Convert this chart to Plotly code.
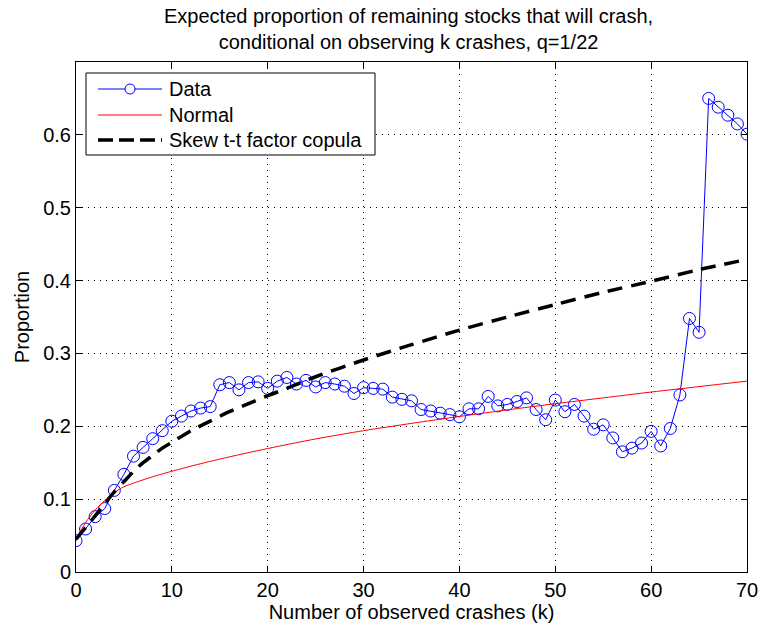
import plotly.graph_objects as go

k = list(range(71))
data = [0.043, 0.059, 0.076, 0.087, 0.112, 0.134, 0.159, 0.171, 0.183, 0.194,
        0.207, 0.214, 0.221, 0.225, 0.227, 0.257, 0.260, 0.250, 0.260, 0.261,
        0.252, 0.262, 0.267, 0.258, 0.263, 0.254, 0.260, 0.258, 0.255, 0.245,
        0.253, 0.252, 0.251, 0.240, 0.237, 0.235, 0.223, 0.221, 0.218, 0.216,
        0.213, 0.224, 0.224, 0.241, 0.228, 0.230, 0.234, 0.239, 0.223, 0.209,
        0.236, 0.220, 0.230, 0.214, 0.196, 0.202, 0.184, 0.165, 0.170, 0.177,
        0.193, 0.173, 0.197, 0.243, 0.348, 0.329, 0.650, 0.638, 0.627, 0.615,
        0.601]

normal_k = [0, 1, 2, 3, 4, 5, 6, 7, 8, 9, 10, 12, 15, 20, 25, 30, 35, 40, 45, 50, 55, 60, 65, 70]
normal = [0.045, 0.068, 0.085, 0.098, 0.109, 0.117, 0.122, 0.1265, 0.1307, 0.1346, 0.1383,
          0.1453, 0.155, 0.1695, 0.1826, 0.194, 0.204, 0.2135, 0.2225, 0.231, 0.239, 0.247,
          0.2545, 0.262]

skew_k = [0, 1, 2, 3, 4, 5, 6, 7, 8, 9, 10, 12, 14, 16, 18, 20, 22, 25, 30, 35, 40, 45,
          50, 55, 60, 65, 70]
skew_tt = [0.045, 0.061, 0.077, 0.094, 0.110, 0.124, 0.138, 0.150, 0.160, 0.170, 0.178,
           0.194, 0.207, 0.220, 0.231, 0.242, 0.252, 0.268, 0.291, 0.312, 0.332, 0.350,
           0.367, 0.384, 0.399, 0.415, 0.429]

x_ticks = [0, 10, 20, 30, 40, 50, 60, 70]
y_ticks = [0, 0.1, 0.2, 0.3, 0.4, 0.5, 0.6]
y_ticktext = ["0", "0.1", "0.2", "0.3", "0.4", "0.5", "0.6"]
legend_labels = ["Data", "Normal", "Skew t-t factor copula"]
title_text = ("Expected proportion of remaining stocks that will crash,<br>"
              "conditional on observing k crashes, q=1/22")

FONT = "Liberation Sans, Arial, Helvetica, sans-serif"
W, H = 758, 632
ML, MR, MT, MB = 76, 11, 62, 60
PW, PH = W - ML - MR, H - MT - MB


def xp(px):
    return (px - ML) / PW


def yp(py):
    return (H - MB - py) / PH


fig = go.Figure()
fig.add_trace(go.Scatter(x=k, y=data, name=legend_labels[0], mode="lines+markers",
                         line=dict(color="#0000ff", width=1),
                         marker=dict(symbol="circle-open", size=12,
                                     line=dict(color="#0000ff", width=1))))
fig.add_trace(go.Scatter(x=normal_k, y=normal, name=legend_labels[1], mode="lines",
                         line=dict(color="#ff0000", width=1, shape="spline", smoothing=0.8)))
fig.add_trace(go.Scatter(x=skew_k, y=skew_tt, name=legend_labels[2], mode="lines",
                         line=dict(color="#000000", width=3.5, dash="15px,9px",
                                   shape="spline", smoothing=0.8)))

axis_common = dict(showline=True, linecolor="black", linewidth=1, mirror="ticks",
                   ticks="inside", ticklen=6, tickcolor="black", automargin=False,
                   showgrid=True, gridcolor="black", gridwidth=1, griddash="1px,5px",
                   zeroline=False, tickfont=dict(family=FONT, size=20, color="black"))

fig.update_xaxes(range=[0, 70], tickvals=x_ticks, ticklabeloverflow="allow", **axis_common,
                 title=dict(text="Number of observed crashes (k)",
                            font=dict(family=FONT, size=20, color="black"), standoff=4))
fig.update_yaxes(range=[0, 0.7], tickvals=y_ticks, ticktext=y_ticktext, **axis_common,
                 title=dict(text="Proportion",
                            font=dict(family=FONT, size=20, color="black"), standoff=8))

# Legend box drawn by hand (MATLAB-style compact legend)
shapes = [dict(type="rect", xref="paper", yref="paper",
               x0=xp(86), x1=xp(375), y0=yp(155), y1=yp(73),
               line=dict(color="black", width=1), fillcolor="white", layer="above")]
rows_y = [89, 115, 140]
styles = [dict(color="#0000ff", width=1), dict(color="#ff0000", width=1),
          dict(color="#000000", width=3.5, dash="15px,6px")]
annotations = []
for lab, ry, st in zip(legend_labels, rows_y, styles):
    shapes.append(dict(type="line", xref="paper", yref="paper",
                       x0=xp(98), x1=xp(162), y0=yp(ry), y1=yp(ry),
                       line=st, layer="above"))
    annotations.append(dict(text=lab, xref="paper", yref="paper", x=xp(167), y=yp(ry),
                            xanchor="left", yanchor="middle", showarrow=False,
                            font=dict(family=FONT, size=20, color="black")))
# circle marker sample for "Data"
shapes.append(dict(type="circle", xref="paper", yref="paper",
                   x0=xp(125), x1=xp(135), y0=yp(rows_y[0] + 5), y1=yp(rows_y[0] - 5),
                   line=dict(color="#0000ff", width=1), fillcolor="white", layer="above"))

annotations.append(dict(text=title_text, xref="paper", yref="paper",
                        x=xp(408), y=yp(29), xanchor="center", yanchor="middle",
                        showarrow=False, align="center",
                        font=dict(family=FONT, size=20, color="black")))

fig.update_layout(
    width=W, height=H,
    margin=dict(l=ML, r=MR, t=MT, b=MB, autoexpand=False),
    paper_bgcolor="white", plot_bgcolor="white",
    showlegend=False,
    shapes=shapes, annotations=annotations,
)

fig.write_html("out.html")
